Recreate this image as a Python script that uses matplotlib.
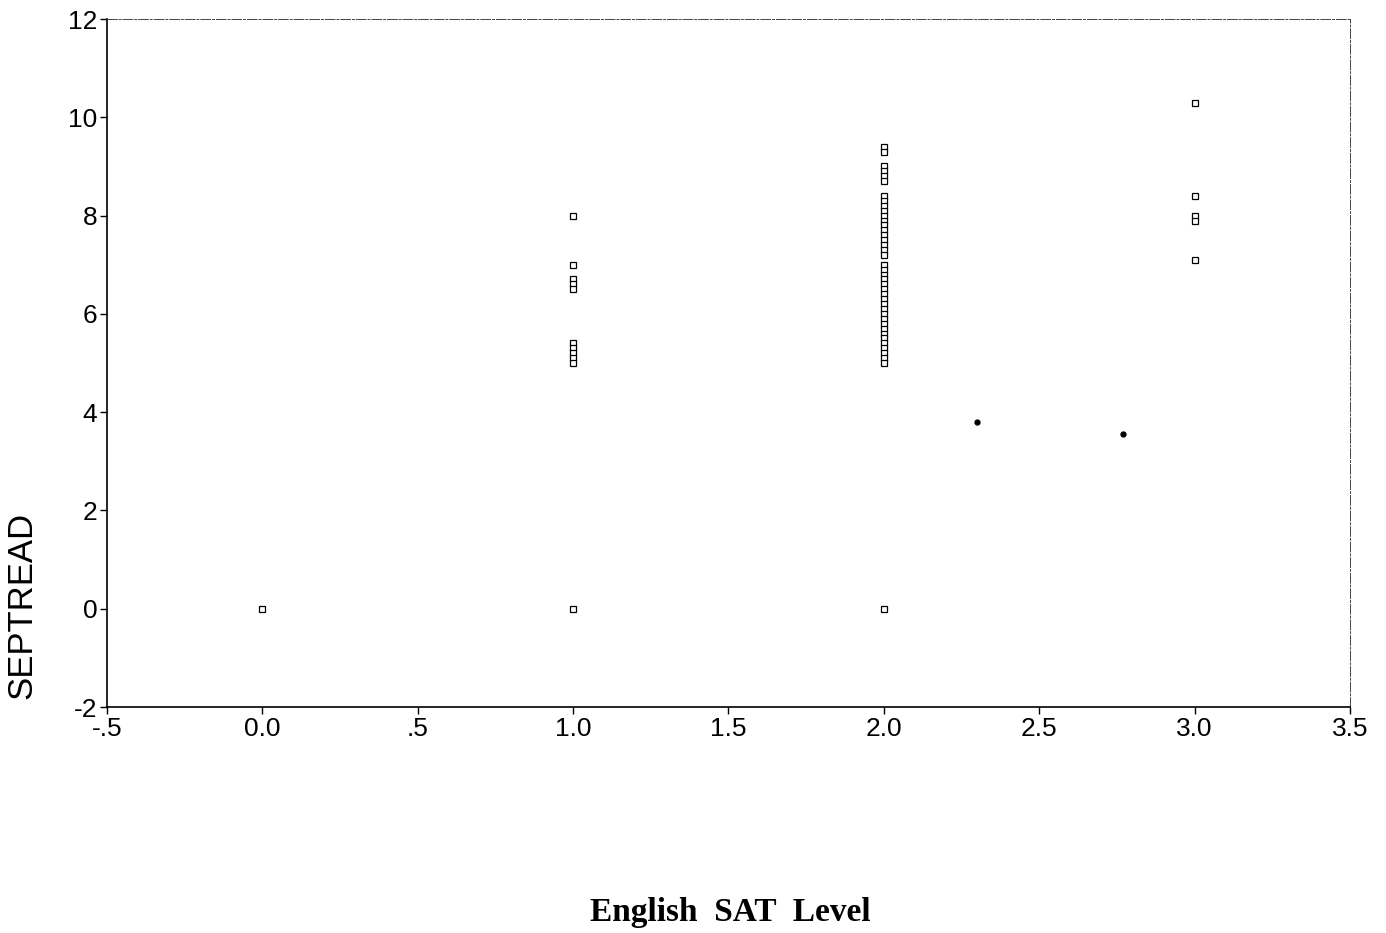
import numpy as np
import matplotlib
matplotlib.use("Agg")
import matplotlib.pyplot as plt

# values
lvl0 = [0.0]
lvl1 = [8.0, 7.0, 6.7, 6.6, 6.5, 5.4, 5.3, 5.2, 5.1, 5.0, 0.0]
lvl2 = [9.4, 9.3, 9.0, 8.9, 8.8, 8.7,
        8.4, 8.3, 8.2, 8.1, 8.0, 7.9, 7.8, 7.7, 7.6, 7.5, 7.4, 7.3, 7.2,
        7.0, 6.9, 6.8,
        6.7, 6.6, 6.5, 6.4, 6.3, 6.2, 6.1, 6.0, 5.9, 5.8, 5.7, 5.6, 5.5,
        5.4, 5.3, 5.2, 5.1, 5.0, 0.0]
lvl3 = [10.3, 8.4, 8.0, 7.9, 7.1]

# scan specks
speck_x = [2.30, 2.77]
speck_y = [3.80, 3.55]

xticks = [-0.5, 0.0, 0.5, 1.0, 1.5, 2.0, 2.5, 3.0, 3.5]
xlabels = ["-.5", "0.0", ".5", "1.0", "1.5", "2.0", "2.5", "3.0", "3.5"]
yticks = [-2, 0, 2, 4, 6, 8, 10, 12]

plt.rcParams['font.family'] = ['Liberation Sans', 'DejaVu Sans']
plt.rcParams['axes.unicode_minus'] = False

fig = plt.figure(figsize=(13.86, 9.33), dpi=100)
ax = fig.add_axes([0.0772, 0.2422, 0.8968, 0.7374])

for lv, vals in zip([0, 1, 2, 3], [lvl0, lvl1, lvl2, lvl3]):
    ax.plot([lv] * len(vals), vals, ls='none', marker='s', ms=5,
            mfc='white', mec='black', mew=0.9)
ax.plot(speck_x, speck_y, ls='none', marker='o', ms=3.5, color='black')

ax.set_xlim(-0.5, 3.5)
ax.set_ylim(-2, 12)
ax.set_xticks(xticks)
ax.set_xticklabels(xlabels)
ax.set_yticks(yticks)
ax.tick_params(axis='both', direction='out', length=5, width=1,
               labelsize=19, pad=2)

for s in ['left', 'bottom']:
    ax.spines[s].set_linewidth(1.2)
for s in ['top', 'right']:
    ax.spines[s].set_linewidth(0.7)
    ax.spines[s].set_linestyle((0, (10, 2, 2, 2)))
    ax.spines[s].set_color('#444444')

fig.text(38 / 1386, 1 - 605 / 933, "SEPTREAD", rotation=90, ha='right',
         va='center', fontsize=25)

fig.text(0.5267, 1 - 912 / 933, "English  SAT  Level", ha='center',
         va='center', fontsize=24, fontweight='bold',
         family=['Liberation Serif', 'DejaVu Serif'])

fig.savefig("out.png", dpi=100)
